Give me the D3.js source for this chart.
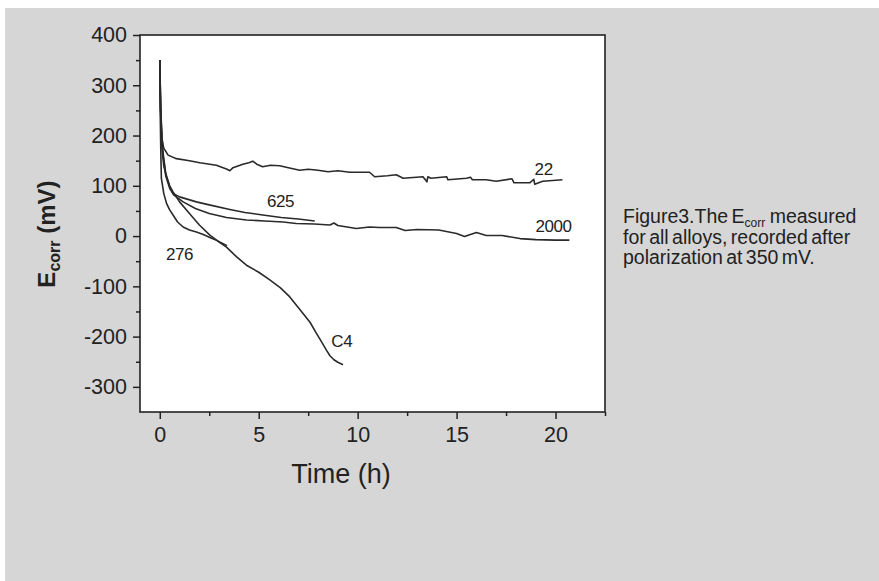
<!doctype html>
<html>
<head>
  <meta charset="utf-8">
  <title>Ecorr vs time</title>
  <script src="https://cdn.jsdelivr.net/npm/d3@7"></script>
  <style>
    html, body { margin: 0; padding: 0; background: #fff; }
    svg { display: block; }
    text { font-family: "Liberation Sans", Arial, sans-serif; fill: #222; }
  </style>
</head>
<body>
  <div id="chart"></div>

  <script type="text/javascript">
    var width = 879;
    var height = 581;

    // values: [time (h), Ecorr (mV)]
    var alloy22 = [
      [0, 350], [0.03, 280], [0.08, 200], [0.2, 175], [0.42, 161], [0.84, 154],
      [1.5, 150], [2.02, 146], [2.86, 141], [3.4, 133], [3.54, 130], [3.7, 136],
      [4.2, 143], [4.5, 146], [4.7, 149], [4.9, 143], [5.2, 138], [5.6, 141],
      [6.06, 140], [6.5, 136], [7.07, 131], [7.5, 133], [8, 131], [8.5, 128],
      [9, 130], [9.6, 127], [10.6, 127], [10.86, 118], [11.5, 120], [11.95, 122],
      [12.3, 115], [13.3, 118], [13.5, 108], [13.55, 118], [13.7, 115], [14.5, 118],
      [14.56, 112], [15.5, 115], [15.7, 117], [15.8, 112], [16.5, 112], [17, 109],
      [17.8, 114], [17.9, 106], [18.7, 106], [18.9, 113], [18.95, 103], [19.35, 109],
      [20.35, 112]
    ];
    var alloy625 = [
      [0, 350], [0.05, 250], [0.15, 170], [0.3, 125], [0.5, 98], [0.67, 85],
      [1, 78], [1.85, 68], [2.5, 62], [3.54, 53], [4.3, 47], [5.2, 42],
      [6.14, 37], [7, 34], [7.83, 30]
    ];
    var alloy2000 = [
      [0, 350], [0.05, 240], [0.15, 165], [0.3, 120], [0.5, 95], [0.7, 82],
      [1.18, 68], [1.8, 55], [2.5, 45], [3.37, 37], [4.38, 32], [5.3, 30],
      [6.23, 28], [6.9, 25], [7.8, 24], [8.6, 22], [8.8, 26], [9, 21],
      [9.93, 15], [10.6, 18], [11.1, 17], [11.95, 17], [12.4, 11], [13, 13],
      [14.1, 12], [15, 5], [15.4, -1], [16, 7], [16.5, 1], [17.3, 1],
      [18.2, -5], [19, -7], [20, -8], [20.7, -8]
    ];
    var alloy276 = [
      [0, 350], [0.02, 250], [0.05, 170], [0.08, 115], [0.2, 85], [0.34, 65],
      [0.5, 52], [0.67, 42], [0.9, 28], [1.18, 18], [1.5, 12], [1.85, 8],
      [2.2, 3], [2.53, -3], [2.9, -9], [3.2, -15], [3.4, -19]
    ];
    var alloyC4 = [
      [0, 350], [0.03, 260], [0.1, 180], [0.2, 140], [0.34, 118], [0.5, 100],
      [0.67, 88], [1, 68], [1.5, 45], [2, 22], [2.53, 2], [3, -12],
      [3.37, -22], [3.9, -42], [4.38, -58], [5, -72], [5.56, -87], [6.1, -103],
      [6.57, -121], [7.24, -154], [7.6, -172], [7.91, -193], [8.2, -212],
      [8.42, -227], [8.6, -238], [8.8, -246], [9, -251], [9.26, -256]
    ];

    var seriesNames = ['22', '625', '2000', '276', 'C4'];
    var seriesData = [alloy22, alloy625, alloy2000, alloy276, alloyC4];
    // label anchor points in data units
    var labelPos = [[19.4, 122], [6.1, 57], [19.9, 8], [1, -48], [9.2, -220]];

    var xMajor = [0, 5, 10, 15, 20];
    var xMinor = [2.5, 7.5, 12.5, 17.5, 22.5];
    var yMajor = [-300, -200, -100, 0, 100, 200, 300, 400];
    var yMinor = [-250, -150, -50, 50, 150, 250, 350];

    var plotL = 140, plotR = 605, plotT = 35, plotB = 412;

    var svg = d3.select('#chart')
      .append('svg')
      .attr('width', width)
      .attr('height', height);

    svg.append('rect')
      .attr('x', 5).attr('y', 8)
      .attr('width', width - 5).attr('height', height - 8)
      .attr('fill', '#d6d6d6');

    var x = d3.scaleLinear().domain([-1, 22.5]).range([plotL, plotR]);
    var y = d3.scaleLinear().domain([-350, 400]).range([plotB, plotT]);

    svg.append('rect')
      .attr('x', plotL).attr('y', plotT)
      .attr('width', plotR - plotL).attr('height', plotB - plotT)
      .attr('fill', '#fff')
      .attr('stroke', '#222')
      .attr('stroke-width', 1.6);

    var line = d3.line()
      .x(function(d) { return x(d[0]); })
      .y(function(d) { return y(d[1]); });

    svg.selectAll('path.curve')
      .data(seriesData)
      .enter()
      .append('path')
      .attr('class', 'curve')
      .attr('d', line)
      .attr('fill', 'none')
      .attr('stroke', '#2a2a2a')
      .attr('stroke-width', 1.6)
      .attr('stroke-linejoin', 'round');

    svg.selectAll('text.lbl')
      .data(seriesNames)
      .enter()
      .append('text')
      .attr('class', 'lbl')
      .text(function(d) { return d; })
      .attr('x', function(d, i) { return x(labelPos[i][0]); })
      .attr('y', function(d, i) { return y(labelPos[i][1]); })
      .attr('text-anchor', 'middle')
      .attr('font-size', '17px')
      .attr('letter-spacing', '-0.4px');

    function styleAxis(g) {
      g.select('.domain').remove();
      g.selectAll('.tick line').attr('stroke', '#222').attr('stroke-width', 1.5);
      g.selectAll('.tick text')
        .attr('font-size', '21.5px')
        .attr('font-family', '"Liberation Sans", Arial, sans-serif')
        .attr('fill', '#222');
    }

    var plain = function(d) { return String(d); };

    var gx = svg.append('g').attr('transform', 'translate(0,' + plotB + ')');
    gx.call(d3.axisBottom(x).tickValues(xMajor).tickFormat(plain).tickSize(7).tickPadding(8));
    styleAxis(gx);
    var gxm = svg.append('g').attr('transform', 'translate(0,' + plotB + ')');
    gxm.call(d3.axisBottom(x).tickValues(xMinor).tickSize(4).tickFormat(''));
    styleAxis(gxm);

    var gy = svg.append('g').attr('transform', 'translate(' + plotL + ',0)');
    gy.call(d3.axisLeft(y).tickValues(yMajor).tickFormat(plain).tickSize(7).tickPadding(6));
    styleAxis(gy);
    var gym = svg.append('g').attr('transform', 'translate(' + plotL + ',0)');
    gym.call(d3.axisLeft(y).tickValues(yMinor).tickSize(4).tickFormat(''));
    styleAxis(gym);

    svg.append('text')
      .attr('x', 341).attr('y', 483)
      .attr('text-anchor', 'middle')
      .attr('font-size', '27px')
      .text('Time (h)');

    var yl = svg.append('text')
      .attr('transform', 'translate(55,' + (y(0) - 2) + ') rotate(-90)')
      .attr('text-anchor', 'middle')
      .attr('font-size', '24px')
      .attr('font-weight', 'bold');
    yl.append('tspan').text('E');
    yl.append('tspan').attr('font-size', '16px').attr('dy', 5).text('corr');
    yl.append('tspan').attr('dy', -5).text(' (mV)');

    var cap = svg.append('text')
      .attr('x', 623).attr('y', 223)
      .attr('font-size', '19.5px')
      .attr('word-spacing', '-2px');
    cap.append('tspan').text('Figure3.The E');
    cap.append('tspan').attr('font-size', '12px').attr('dy', 4).text('corr');
    cap.append('tspan').attr('dy', -4).attr('dx', 1).text(' measured');
    cap.append('tspan').attr('x', 623).attr('dy', 20.5).text('for all alloys, recorded after');
    cap.append('tspan').attr('x', 623).attr('dy', 20.5).text('polarization at 350 mV.');
  </script>
</body>
</html>
